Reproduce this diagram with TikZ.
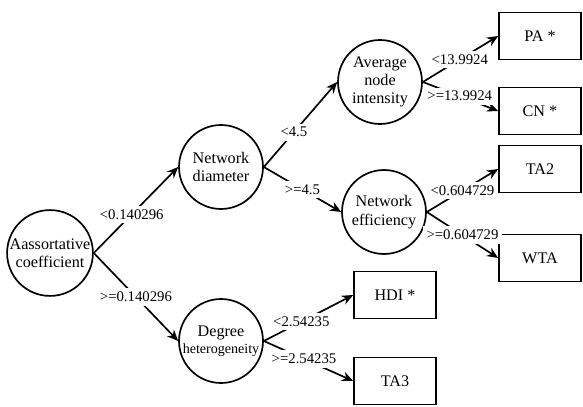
\documentclass[tikz,border=0pt]{standalone}
\usepackage{fontspec}
\setmainfont{Liberation Serif}
\usetikzlibrary{positioning, arrows.meta}

\begin{document}
\begin{tikzpicture}[
    on grid,
    every node/.style={font=\fontsize{11.5}{13}\selectfont},
    split/.style={circle, draw, line width=1.2pt, minimum size=2.1cm, inner sep=0pt, align=center},
    leaf/.style={rectangle, draw, line width=1.2pt, minimum width=2.05cm, minimum height=1.18cm},
    cond/.style={fill=white, inner sep=2.5pt, font=\fontsize{10.5}{12}\selectfont},
    every edge/.append style={line width=1.2pt, -{Stealth[length=2.8mm, width=2.4mm]}}
]
   \useasboundingbox (0,0) rectangle (14.575,10.15);

   % Split nodes
   \node[split] (ac) at (1.25,3.825) {Aassortative\\coefficient};
   \node[split] (nd) [above right=2.15cm and 4.275cm of ac] {Network\\diameter};
   \node[split] (dh) [below right=2.2cm and 4.275cm of ac] {Degree\\[-1pt]{\fontsize{10}{12}\selectfont heterogeneity}};
   \node[split] (ani) [above right=2.125cm and 3.975cm of nd] {Average\\node\\intensity};
   \node[split] (ne) [below right=1.125cm and 4.075cm of nd] {Network\\efficiency};

   % Leaves
   \node[leaf] (pa) [above right=1.15cm and 4cm of ani] {PA *};
   \node[leaf] (cn) [below right=0.725cm and 4cm of ani] {CN *};
   \node[leaf] (ta2) [above right=1.075cm and 3.9cm of ne] {TA2};
   \node[leaf] (wta) [below right=1.15cm and 3.9cm of ne] {WTA};
   \node[leaf] (hdi) [above right=1.15cm and 4.35cm of dh] {HDI *};
   \node[leaf] (ta3) [below right=1cm and 4.35cm of dh] {TA3};

   % Branches
   \path
   (ac.east) edge node[cond, pos=.45] {<0.140296} (nd.west)
   (ac.east) edge node[cond, pos=.5] {>=0.140296} (dh.west)
   (nd.east) edge node[cond, pos=.41] {<4.5} (ani.west)
   (nd.east) edge node[cond, pos=.5] {>=4.5} (ne.west)
   (ani.east) edge node[cond, pos=.49] {<13.9924} (pa.west)
   (ani.east) edge node[cond, pos=.49] {>=13.9924} (cn.west)
   (ne.east) edge node[cond, pos=.5] {<0.604729} (ta2.west)
   (ne.east) edge node[cond, pos=.5] {>=0.604729} (wta.west)
   (dh.east) edge node[cond, pos=.42] {<2.54235} (hdi.west)
   (dh.east) edge node[cond, pos=.45] {>=2.54235} (ta3.west);

\end{tikzpicture}
\end{document}
